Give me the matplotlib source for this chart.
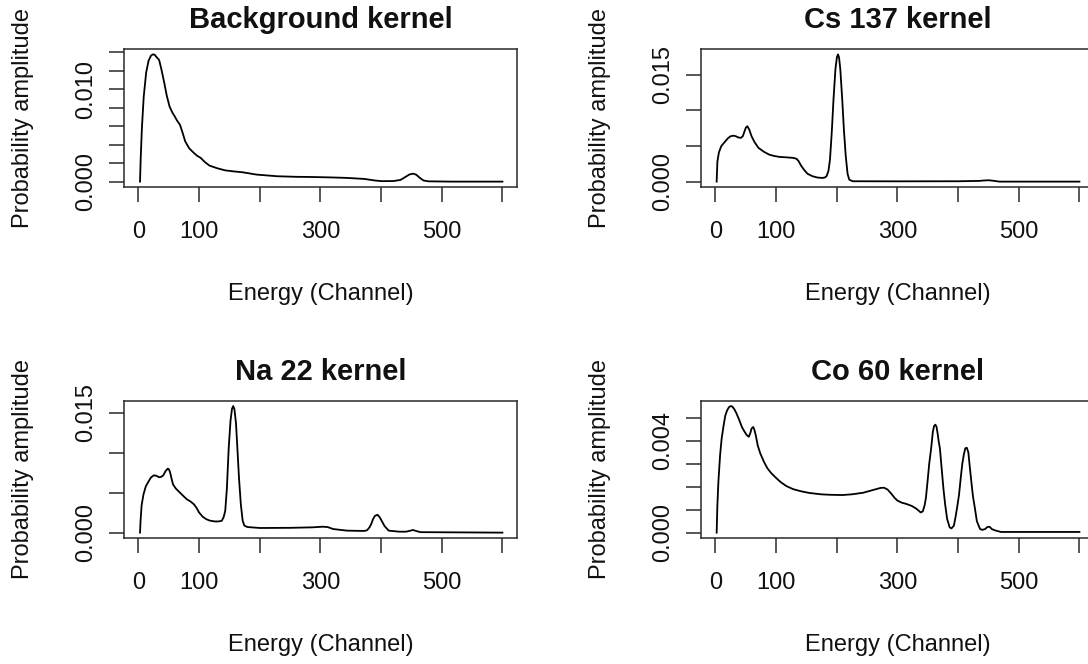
import numpy as np
import matplotlib
matplotlib.use("Agg")
from matplotlib import pyplot as plt

plt.rcParams['font.family'] = ['Liberation Sans', 'DejaVu Sans']

# Background kernel
bg_x = [2.9, 4, 6, 9, 13, 17, 21, 24, 26.9, 30, 34.4, 38, 43, 47, 51.6, 56, 60.2, 64,
        68.8, 73, 77.4, 84, 91.7, 97, 103, 110, 117.5, 130, 143, 158, 172, 195, 229,
        260, 286.5, 320, 344, 372.5, 390, 401, 420, 432, 440, 447, 453, 458, 464, 470,
        478, 516, 600]
bg_y = [0.0, 0.0025, 0.0058, 0.0092, 0.0118, 0.0131, 0.01365, 0.01378, 0.01375, 0.0135,
        0.01317, 0.0122, 0.01065, 0.0093, 0.00813, 0.0075, 0.00705, 0.0066, 0.00615,
        0.0053, 0.00435, 0.0036, 0.0031, 0.0028, 0.00256, 0.0021, 0.00173, 0.00145,
        0.00122, 0.0011, 0.00101, 0.00076, 0.00058, 0.00052, 0.0005, 0.00045, 0.0004,
        0.00029, 0.00012, 0.00005, 0.00006, 0.00018, 0.0005, 0.00078, 0.00086, 0.00075,
        0.0004, 0.00012, 0.00003, 0.0, 0.0]

# Cs 137 kernel
cs_x = [2.3, 3.5, 6, 10, 16.7, 21, 25.3, 30, 33.9, 38, 42.5, 45.5, 48.3, 50.5, 52.9, 56,
        59.8, 65, 71.3, 80, 88.5, 97, 105.7, 118, 128.7, 134, 137.4, 141, 146, 152,
        160.3, 168, 174.7, 180, 183.3, 186.5, 189, 192, 194.8, 198, 200.5, 202.3, 204,
        206, 209.2, 212, 215, 218, 220.7, 226.4, 300, 400, 435, 443, 450.6, 458, 468,
        600]
cs_y = [0.0, 0.0028, 0.0041, 0.0050, 0.00567, 0.0061, 0.00637, 0.00645, 0.00637, 0.0062,
        0.00614, 0.0064, 0.00708, 0.0076, 0.00778, 0.0073, 0.00637, 0.0055, 0.00473,
        0.0042, 0.0038, 0.0036, 0.00347, 0.0034, 0.00333, 0.0032, 0.00286, 0.0023,
        0.00169, 0.0011, 0.00075, 0.00058, 0.00052, 0.00055, 0.00075, 0.0015, 0.0031,
        0.0070, 0.01153, 0.0158, 0.0175, 0.01786, 0.0174, 0.0158, 0.01153, 0.0072,
        0.00356, 0.0011, 0.00028, 0.00005, 0.00004, 0.00005, 0.0001, 0.00016, 0.00019,
        0.00012, 0.0, 0.0]

# Na 22 kernel
na_x = [2.9, 3.8, 5.5, 8.6, 12.5, 17.2, 21, 25.8, 30, 34.4, 38, 41.3, 45, 48.7, 50.7,
        52.7, 55, 57.3, 62, 68.8, 74, 80.2, 86, 91.7, 96, 100.3, 106, 111.8, 118, 126,
        132, 137.5, 140.5, 143.3, 146, 149, 152, 154.5, 156.5, 158.5, 161, 163.3, 166,
        169, 172, 174.8, 180, 200.6, 250, 286.5, 303.7, 312, 321, 344, 372.5, 377,
        381, 384, 386.8, 390, 394.3, 398, 401, 406, 412.6, 430, 441.3, 447, 452.7,
        458, 465, 600]
na_y = [0.0, 0.0015, 0.0034, 0.00478, 0.0058, 0.00643, 0.0069, 0.00717, 0.0071, 0.00692,
        0.00698, 0.00717, 0.0077, 0.008, 0.0079, 0.00746, 0.0067, 0.00602, 0.0055,
        0.00499, 0.0046, 0.00416, 0.0039, 0.00354, 0.0031, 0.00251, 0.0020, 0.00169,
        0.0015, 0.0014, 0.0014, 0.00148, 0.0019, 0.00272, 0.0055, 0.01055, 0.0140,
        0.0155, 0.01582, 0.0154, 0.0137, 0.01055, 0.0068, 0.00354, 0.0015, 0.00087,
        0.0007, 0.00058, 0.0006, 0.00066, 0.00074, 0.0007, 0.00045, 0.00025, 0.00021,
        0.0003, 0.00066, 0.0011, 0.00169, 0.0021, 0.00223, 0.0019, 0.00148, 0.0008,
        0.00025, 0.00012, 0.00012, 0.00022, 0.00033, 0.0002, 0.00006, 0.0]

# Co 60 kernel
co_x = [2.3, 3.5, 5.2, 8, 10.5, 13.8, 16.5, 19.5, 22.5, 25.3, 28, 31, 35, 39.7, 44, 48.3,
        52, 55.2, 57.5, 59.8, 62.6, 64.5, 66.7, 70, 74.1, 80, 85.6, 92, 100, 108,
        117.2, 128, 140.2, 155, 174.7, 190, 209.2, 225, 243.7, 260, 272.4, 278, 283.9,
        290, 295.4, 300, 306.9, 315, 324.1, 331, 338.5, 342, 345, 347.1, 350, 352.5,
        355.7, 358.5, 360.5, 362.6, 364.5, 366.5, 368, 370.1, 373, 376, 378.7, 382,
        386.2, 389, 393.1, 396, 398.5, 401.7, 404.5, 407, 409.5, 412, 414.5, 417, 419,
        422, 424.5, 427.6, 431, 436.2, 440, 444.8, 448, 451.7, 456, 462, 470.7, 600]
co_y = [0.0, 0.0012, 0.00224, 0.00339, 0.0041, 0.00468, 0.0051, 0.00533, 0.00547,
        0.00552, 0.0055, 0.0054, 0.0052, 0.0049, 0.0046, 0.0044, 0.00425, 0.00418,
        0.00432, 0.00454, 0.00461, 0.00448, 0.00425, 0.0038, 0.00346, 0.0031, 0.00282,
        0.0026, 0.00239, 0.0022, 0.00203, 0.0019, 0.00181, 0.00173, 0.00167, 0.00165,
        0.00164, 0.00167, 0.00174, 0.00186, 0.00195, 0.00196, 0.00188, 0.0017, 0.00152,
        0.0014, 0.00131, 0.00125, 0.00116, 0.00105, 0.00088, 0.00093, 0.0012, 0.00152,
        0.0023, 0.003, 0.00368, 0.0044, 0.00465, 0.00471, 0.00462, 0.0043, 0.0040,
        0.00368, 0.0028, 0.0019, 0.00124, 0.0006, 0.00023, 0.00018, 0.0003, 0.0007,
        0.0011, 0.00167, 0.0024, 0.003, 0.0034, 0.00368, 0.0037, 0.0035, 0.00296,
        0.0022, 0.0016, 0.00109, 0.0005, 0.00016, 0.00012, 0.00016, 0.00024, 0.00026,
        0.00015, 0.00009, 0.00003, 0.00003]

titles = ["Background kernel", "Cs 137 kernel", "Na 22 kernel", "Co 60 kernel"]
xs = [bg_x, cs_x, na_x, co_x]
ys = [bg_y, cs_y, na_y, co_y]

x_ticks = [0, 100, 200, 300, 400, 500, 600]
x_labels = ['0', '100', '', '300', '', '500', '']
y_ticks = [[0, 0.002, 0.004, 0.006, 0.008, 0.010, 0.012, 0.014],
           [0, 0.005, 0.010, 0.015],
           [0, 0.005, 0.010, 0.015],
           [0, 0.001, 0.002, 0.003, 0.004, 0.005]]
y_labels = [['0.000', '', '', '', '', '0.010', '', ''],
            ['0.000', '', '', '0.015'],
            ['0.000', '', '', '0.015'],
            ['0.000', '', '', '', '0.004', '']]

W, H = 1088, 664
fig = plt.figure(figsize=(W / 100, H / 100), dpi=100)
fig.patch.set_facecolor('white')

# axes boxes in pixels: left, top, right, bottom
boxes = [(124.3, 49.3, 517.0, 186.7), (701.3, 49.3, 1094.0, 186.7),
         (124.3, 401.0, 517.0, 537.7), (701.3, 401.0, 1094.0, 537.7)]

fs = 17
dark = '#2a2a2a'
for i in range(4):
    l, t, r, b = boxes[i]
    ax = fig.add_axes([l / W, 1 - b / H, (r - l) / W, (b - t) / H])
    ax.plot(xs[i], ys[i], color='black', lw=1.3, solid_joinstyle='round')
    m = max(ys[i])
    ax.set_xlim(-23, 624)
    ax.set_ylim(-0.04 * m, 1.04 * m)
    ax.set_xticks(x_ticks)
    ax.set_xticklabels(x_labels)
    ax.set_yticks(y_ticks[i])
    ax.set_yticklabels(y_labels[i])
    for s in ax.spines.values():
        s.set_color(dark)
        s.set_linewidth(1.1)
    ax.tick_params(axis='both', direction='out', length=11, width=1.1, color=dark,
                   labelsize=fs, labelcolor='#111111')
    ax.tick_params(axis='x', pad=14)
    ax.tick_params(axis='y', pad=8.5)
    for lab in ax.get_yticklabels():
        lab.set_rotation(90)
        lab.set_va('center')
    hpx = b - t
    wpx = r - l
    ax.text(0.5, 1 + 29 / hpx, titles[i], transform=ax.transAxes, ha='center',
            va='center', fontsize=21, fontweight='bold', color='#111111')
    ax.text(0.5, -107 / hpx, "Energy (Channel)", transform=ax.transAxes,
            ha='center', va='center', fontsize=fs, color='#111111')
    ax.text(-101 / wpx, 0.5, "Probability amplitude", transform=ax.transAxes,
            ha='center', va='center', rotation=90, fontsize=fs, color='#111111')

fig.savefig('out.png', dpi=100, facecolor='white')
